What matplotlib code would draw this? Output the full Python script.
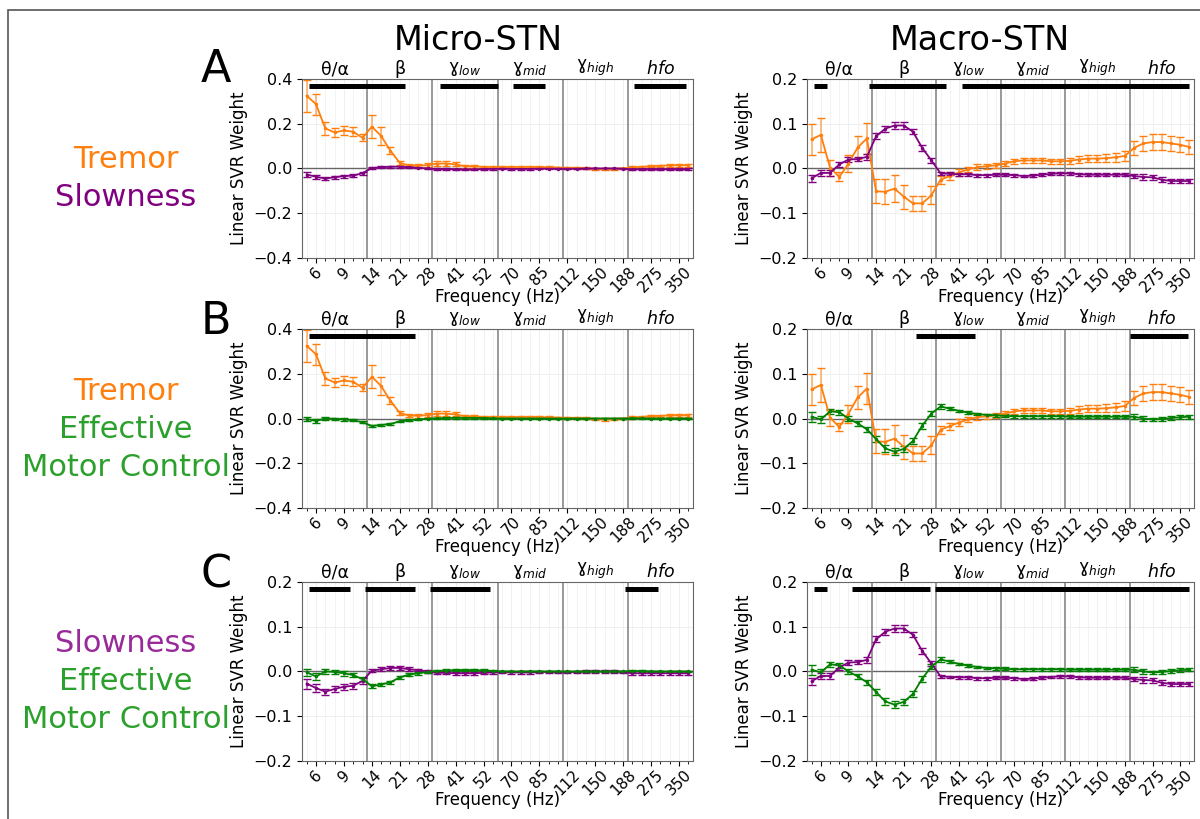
import matplotlib
matplotlib.use('Agg')
from matplotlib import pyplot as plt
from matplotlib.patches import Rectangle
from matplotlib.ticker import MultipleLocator, FixedLocator

# frequency bins (42 per recording), ticks every third bin
tick_labels = ['6', '9', '14', '21', '28', '41', '52', '70', '85', '112', '150', '188', '275', '350']
band_labels = ['θ/α', 'β', 'ɣ$_{low}$', 'ɣ$_{mid}$', 'ɣ$_{high}$', '$hfo$']

micro_tremor = [0.325, 0.287, 0.179, 0.161, 0.17, 0.164, 0.137, 0.187, 0.145, 0.079,
                0.025, 0.013, 0.012, 0.015, 0.022, 0.022, 0.018, 0.01, 0.009, 0.007,
                0.006, 0.006, 0.006, 0.007, 0.007, 0.006, 0.005, 0.004, 0.003, 0.003,
                0.001, -0.003, -0.004, -0.002, 0.0, 0.005, 0.007, 0.01, 0.012, 0.013,
                0.014, 0.014]
micro_tremor_err = [0.072, 0.047, 0.028, 0.02, 0.02, 0.02, 0.015, 0.05, 0.042, 0.015,
                    0.008, 0.008, 0.008, 0.009, 0.012, 0.012, 0.009, 0.006, 0.005, 0.005,
                    0.005, 0.005, 0.005, 0.005, 0.005, 0.005, 0.004, 0.004, 0.004, 0.004,
                    0.004, 0.005, 0.005, 0.004, 0.004, 0.005, 0.005, 0.005, 0.005, 0.006,
                    0.006, 0.006]
micro_slow = [-0.027, -0.037, -0.045, -0.039, -0.034, -0.032, -0.021, 0.002, 0.005, 0.008,
              0.008, 0.005, 0.003, 0.0, -0.003, -0.003, -0.004, -0.004, -0.004, -0.003,
              -0.002, -0.001, -0.002, -0.002, -0.002, -0.001, -0.001, -0.001, -0.001, -0.001,
              0.0, 0.0, 0.0, 0.0, -0.001, -0.004, -0.004, -0.004, -0.004, -0.004,
              -0.004, -0.004]
micro_slow_err = [0.011, 0.009, 0.007, 0.007, 0.007, 0.007, 0.006, 0.004, 0.004, 0.004,
                  0.004, 0.004, 0.003, 0.003, 0.003, 0.003, 0.003, 0.003, 0.003, 0.003,
                  0.003, 0.003, 0.003, 0.003, 0.003, 0.003, 0.003, 0.003, 0.003, 0.003,
                  0.003, 0.003, 0.003, 0.003, 0.003, 0.004, 0.004, 0.004, 0.004, 0.004,
                  0.004, 0.004]
micro_emc = [-0.002, -0.011, 0.0, -0.001, -0.004, -0.008, -0.017, -0.033, -0.029, -0.024,
             -0.013, -0.007, -0.004, -0.001, 0.001, 0.002, 0.003, 0.003, 0.003, 0.002,
             0.001, 0.0, 0.0, 0.0, 0.0, 0.0, 0.0, 0.0, 0.0, 0.0,
             0.0, 0.0, 0.0, 0.0, 0.0, 0.001, 0.001, 0.0, 0.0, 0.0,
             0.0, 0.0]
micro_emc_err = [0.008, 0.007, 0.006, 0.005, 0.005, 0.005, 0.004, 0.004, 0.004, 0.003,
                 0.003, 0.003, 0.003, 0.003, 0.003, 0.003, 0.003, 0.003, 0.003, 0.003,
                 0.002, 0.002, 0.002, 0.002, 0.002, 0.002, 0.002, 0.002, 0.002, 0.002,
                 0.002, 0.002, 0.002, 0.002, 0.002, 0.002, 0.002, 0.002, 0.002, 0.002,
                 0.002, 0.002]

macro_tremor = [0.065, 0.075, 0.002, -0.019, 0.011, 0.047, 0.067, -0.051, -0.052, -0.045,
                -0.063, -0.078, -0.078, -0.06, -0.025, -0.017, -0.009, -0.002, 0.003, 0.005,
                0.007, 0.011, 0.016, 0.018, 0.018, 0.018, 0.016, 0.016, 0.017, 0.02,
                0.022, 0.022, 0.023, 0.025, 0.028, 0.046, 0.056, 0.059, 0.059, 0.056,
                0.053, 0.048]
macro_tremor_err = [0.034, 0.038, 0.018, 0.01, 0.02, 0.025, 0.035, 0.027, 0.028, 0.031,
                    0.027, 0.016, 0.016, 0.02, 0.009, 0.008, 0.007, 0.006, 0.006, 0.006,
                    0.006, 0.006, 0.006, 0.006, 0.006, 0.006, 0.006, 0.006, 0.006, 0.007,
                    0.008, 0.008, 0.009, 0.01, 0.011, 0.015, 0.016, 0.017, 0.017, 0.017,
                    0.017, 0.016]
macro_slow = [-0.022, -0.01, -0.01, 0.009, 0.02, 0.021, 0.026, 0.072, 0.089, 0.096,
              0.096, 0.082, 0.046, 0.018, -0.011, -0.012, -0.013, -0.013, -0.015, -0.015,
              -0.014, -0.014, -0.015, -0.017, -0.016, -0.014, -0.012, -0.011, -0.011, -0.013,
              -0.014, -0.014, -0.014, -0.014, -0.014, -0.017, -0.019, -0.02, -0.025, -0.028,
              -0.028, -0.028]
macro_slow_err = [0.008, 0.006, 0.006, 0.006, 0.005, 0.005, 0.006, 0.007, 0.007, 0.007,
                  0.007, 0.006, 0.006, 0.006, 0.004, 0.003, 0.003, 0.003, 0.003, 0.003,
                  0.003, 0.003, 0.003, 0.003, 0.003, 0.003, 0.003, 0.003, 0.003, 0.003,
                  0.003, 0.003, 0.003, 0.003, 0.003, 0.005, 0.006, 0.006, 0.005, 0.005,
                  0.005, 0.005]
macro_emc = [0.004, -0.002, 0.016, 0.014, 0.0, -0.011, -0.024, -0.046, -0.067, -0.074,
             -0.068, -0.05, -0.016, 0.011, 0.027, 0.022, 0.017, 0.013, 0.01, 0.008,
             0.007, 0.006, 0.005, 0.005, 0.005, 0.005, 0.005, 0.005, 0.004, 0.004,
             0.004, 0.004, 0.004, 0.004, 0.004, 0.004, 0.0, -0.002, -0.001, 0.001,
             0.003, 0.004]
macro_emc_err = [0.011, 0.007, 0.006, 0.006, 0.006, 0.006, 0.006, 0.007, 0.007, 0.007,
                 0.007, 0.007, 0.007, 0.006, 0.005, 0.004, 0.003, 0.003, 0.003, 0.003,
                 0.003, 0.003, 0.003, 0.003, 0.003, 0.003, 0.003, 0.003, 0.003, 0.003,
                 0.003, 0.003, 0.003, 0.003, 0.003, 0.005, 0.005, 0.004, 0.004, 0.004,
                 0.004, 0.004]

# significance bars (start bin, end bin)
sig_micro_a = [(0.3, 10.6), (14.3, 20.6), (22.2, 25.6), (35.2, 40.7)]
sig_macro_a = [(0.3, 1.7), (6.2, 14.6), (16.3, 41.0)]
sig_micro_b = [(0.3, 11.6)]
sig_macro_b = [(11.3, 17.7), (34.5, 40.9)]
sig_micro_c = [(0.3, 4.7), (6.3, 11.6), (13.3, 19.7), (34.2, 37.7)]
sig_macro_c = [(0.3, 1.7), (4.4, 12.9), (13.4, 41.0)]

ORANGE = '#ff7f0e'
PURPLE = '#800080'
GREEN = '#008000'

fig = plt.figure(figsize=(12, 8.19), dpi=100)


def panel(rect, series, sig, ylim, ystep):
    ax = fig.add_axes(rect)
    x = list(range(len(series[0][0])))
    ax.set_xlim(-0.5, len(x) - 0.5)
    ax.set_ylim(-ylim, ylim)
    ax.yaxis.set_major_locator(MultipleLocator(ystep))
    ax.xaxis.set_major_locator(FixedLocator(list(range(1, len(x), 3))))
    ax.xaxis.set_minor_locator(MultipleLocator(1))
    ax.set_xticklabels(tick_labels, rotation=45, fontsize=11)
    ax.tick_params(axis='x', which='major', pad=1)
    ax.tick_params(axis='y', labelsize=11.5)
    ax.grid(which='major', color='#efefef', lw=0.7)
    ax.grid(which='minor', axis='x', color='#f3f3f3', lw=0.7)
    ax.set_axisbelow(True)
    for s in ax.spines.values():
        s.set_color('#666666')
    ax.axhline(0, color='#666666', lw=1)
    for b in range(1, 6):
        ax.axvline(b * 7 - 0.5, color='#888888', lw=1.2)
    for i, lab in enumerate(band_labels):
        ax.text(i * 7 + 3, ylim * 1.01, lab, ha='center', va='bottom', fontsize=12.5)
    for vals, err, col in series:
        ax.errorbar(x, vals, yerr=err, color=col, lw=1.3, marker='.', ms=3,
                    ecolor=col, elinewidth=1.2, capsize=3)
    for c in ax.collections:
        c.set_alpha(0.6)
    for s0, s1 in sig:
        ax.plot([s0, s1], [ylim * 0.92, ylim * 0.92], color='black', lw=3.6,
                solid_capstyle='butt')
    ax.set_ylabel('Linear SVR Weight', fontsize=12)
    ax.set_xlabel('Frequency (Hz)', fontsize=12, labelpad=-5)
    return ax


lx, rx = 0.2517, 0.6725
lw_, rw_ = 0.3258, 0.3225
h = 0.2186
rows = [0.685, 0.3797, 0.0708]

panel([lx, rows[0], lw_, h], [(micro_tremor, micro_tremor_err, ORANGE), (micro_slow, micro_slow_err, PURPLE)],
      sig_micro_a, 0.4, 0.2)
panel([rx, rows[0], rw_, h], [(macro_tremor, macro_tremor_err, ORANGE), (macro_slow, macro_slow_err, PURPLE)],
      sig_macro_a, 0.2, 0.1)
panel([lx, rows[1], lw_, h], [(micro_tremor, micro_tremor_err, ORANGE), (micro_emc, micro_emc_err, GREEN)],
      sig_micro_b, 0.4, 0.2)
panel([rx, rows[1], rw_, h], [(macro_tremor, macro_tremor_err, ORANGE), (macro_emc, macro_emc_err, GREEN)],
      sig_macro_b, 0.2, 0.1)
panel([lx, rows[2], lw_, h], [(micro_slow, micro_slow_err, PURPLE), (micro_emc, micro_emc_err, GREEN)],
      sig_micro_c, 0.2, 0.1)
panel([rx, rows[2], rw_, h], [(macro_slow, macro_slow_err, PURPLE), (macro_emc, macro_emc_err, GREEN)],
      sig_macro_c, 0.2, 0.1)

# titles, panel letters and row labels
fig.text(478 / 1200, 1 - 40 / 819, 'Micro-STN', ha='center', va='center', fontsize=24)
fig.text(980 / 1200, 1 - 40 / 819, 'Macro-STN', ha='center', va='center', fontsize=24)
for letter, yy in [('A', 69), ('B', 322), ('C', 575)]:
    fig.text(216 / 1200, 1 - yy / 819, letter, ha='center', va='center', fontsize=32)

row_text = [
    ('Tremor', ORANGE, 160), ('Slowness', PURPLE, 197),
    ('Tremor', ORANGE, 391), ('Effective', '#2ca02c', 430), ('Motor Control', '#2ca02c', 467),
    ('Slowness', '#992a99', 643), ('Effective', '#2ca02c', 682), ('Motor Control', '#2ca02c', 719),
]
for t, col, yy in row_text:
    fig.text(126 / 1200, 1 - yy / 819, t, color=col, ha='center', va='center', fontsize=22)

fig.add_artist(Rectangle((8 / 1200, -0.1), 1.2, 1 - 10 / 819 + 0.1, transform=fig.transFigure,
                         fill=False, edgecolor='#555555', lw=1.2))

fig.savefig('out.png', dpi=100)
